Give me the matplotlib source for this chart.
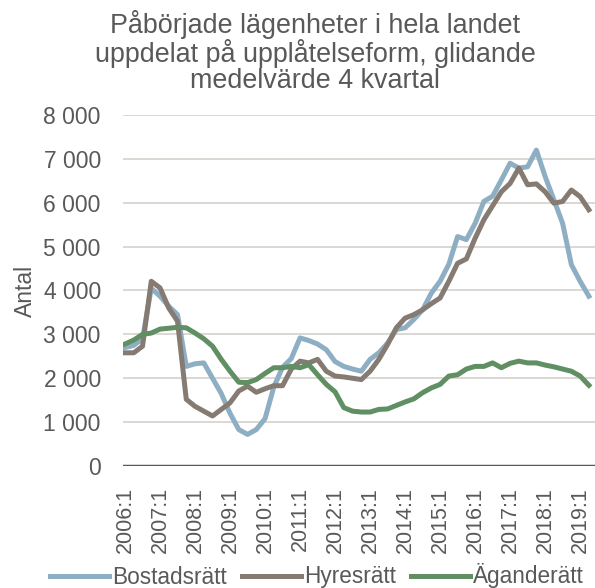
import numpy as np
import matplotlib
matplotlib.use('Agg')
import matplotlib.pyplot as plt

plt.rcParams['font.family'] = ['Liberation Sans', 'DejaVu Sans']

# kvartal 2006:1 - 2019:2
quarters = [f'{y}:{q}' for y in range(2006, 2020) for q in range(1, 5)][:54]

bostadsratt = [2700, 2750, 2900, 4050, 3870, 3640, 3450, 2270, 2330, 2350,
               2000, 1650, 1200, 830, 720, 830, 1080, 1800, 2250, 2450,
               2920, 2860, 2780, 2650, 2380, 2270, 2210, 2160, 2430, 2580,
               2800, 3110, 3150, 3340, 3560, 3940, 4210, 4600, 5230, 5160,
               5530, 6030, 6150, 6520, 6900, 6790, 6820, 7200, 6600, 6070,
               5530, 4590, 4210, 3870]
hyresratt = [2580, 2580, 2730, 4210, 4060, 3600, 3300, 1520, 1360, 1250,
             1140, 1290, 1440, 1710, 1820, 1680, 1760, 1830, 1830, 2210,
             2390, 2350, 2430, 2160, 2050, 2030, 2000, 1970, 2160, 2430,
             2770, 3150, 3370, 3450, 3560, 3700, 3830, 4210, 4620, 4720,
             5190, 5610, 5930, 6250, 6440, 6790, 6410, 6430, 6250, 5990,
             6030, 6290, 6140, 5840]
aganderatt = [2780, 2870, 3000, 3030, 3120, 3140, 3160, 3150, 3030, 2900,
              2730, 2430, 2160, 1910, 1900, 1970, 2110, 2240, 2240, 2270,
              2240, 2310, 2080, 1860, 1690, 1330, 1250, 1230, 1230, 1290,
              1300, 1380, 1460, 1530, 1670, 1780, 1860, 2050, 2080, 2210,
              2270, 2270, 2350, 2240, 2340, 2390, 2350, 2350, 2300, 2260,
              2210, 2160, 2050, 1840]

series = [('Bostadsrätt', bostadsratt, '#8EAFC3'),
          ('Hyresrätt', hyresratt, '#857B72'),
          ('Äganderätt', aganderatt, '#5F8F62')]

text_col = '#595959'

fig = plt.figure(figsize=(5.95, 5.88), dpi=100)
ax = fig.add_axes([123/595, 1 - 466/588, (595 - 123)/595, (466 - 115)/588])

x = np.arange(len(quarters))
for name, vals, col in series:
    ax.plot(x, vals, color=col, lw=3.6, label=name, solid_joinstyle='round')

ax.set_ylim(0, 8000)
ax.set_xlim(-0.23, 53.7)
ax.set_yticks(range(0, 8001, 1000))
ax.set_yticklabels([f'{v:,}'.replace(',', ' ') for v in range(0, 8001, 1000)])
ax.set_xticks(x[::4])
ax.set_xticklabels(quarters[::4], rotation=90)

ax.grid(axis='y', color='#D5D1CC', lw=1.2)
ax.set_axisbelow(True)
ax.axhline(0, color='#5F5750', lw=2.5, zorder=1)
for s in ax.spines.values():
    s.set_visible(False)
ax.tick_params(axis='both', length=0, colors=text_col)
ax.tick_params(axis='y', labelsize=16.5, pad=16)
ax.tick_params(axis='x', labelsize=15.5, pad=15)

ax.set_ylabel('Antal', fontsize=16.5, color=text_col, labelpad=5)

fig.text(315/595, 1 - 52/588,
         'Påbörjade lägenheter i hela landet\nuppdelat på upplåtelseform, glidande\nmedelvärde 4 kvartal',
         ha='center', va='center', fontsize=19.4, color=text_col, linespacing=1.0)

fig.legend(loc='center', bbox_to_anchor=(317/595, 1 - 576/588), ncol=3,
           frameon=False, fontsize=16.3, handlelength=2.6, handletextpad=0.15,
           columnspacing=0.65, labelcolor=text_col, borderaxespad=0)

fig.savefig('out.png', dpi=100)
